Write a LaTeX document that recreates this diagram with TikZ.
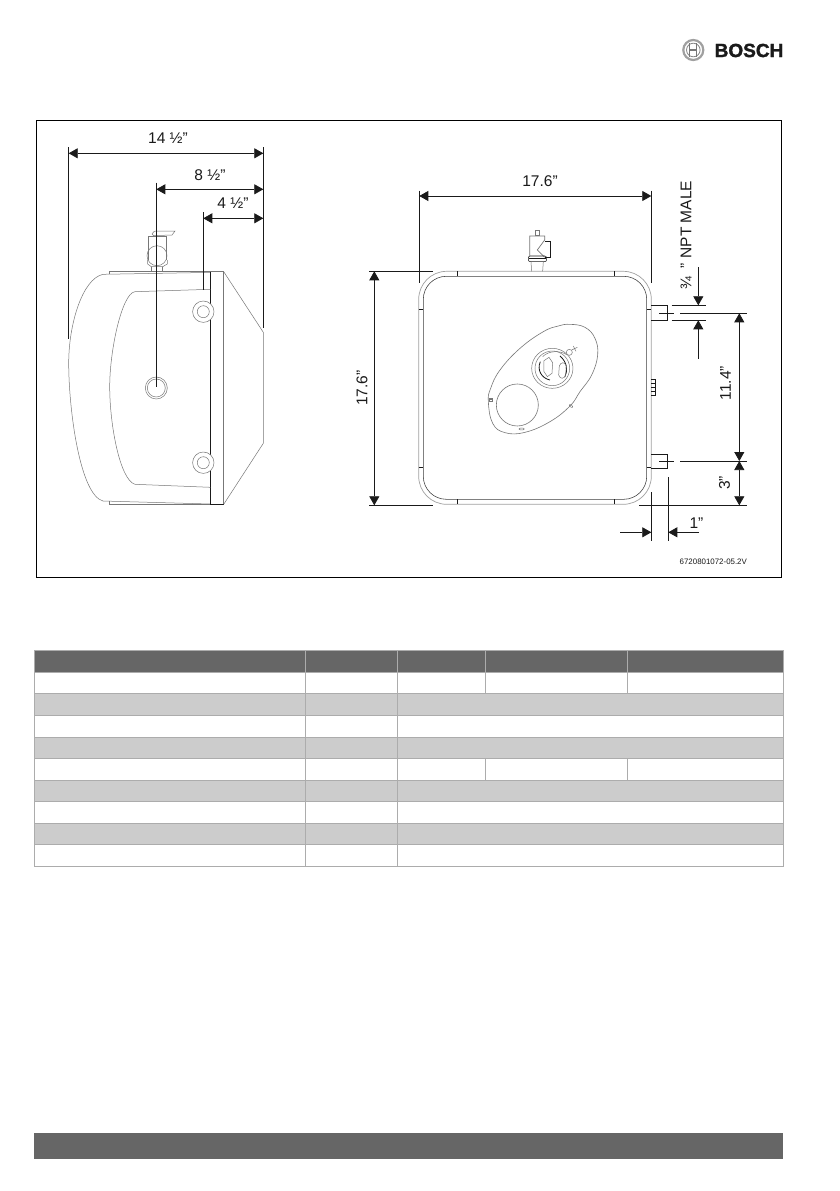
\documentclass[tikz,border=0pt]{standalone}
\usepackage{fontspec}
\setmainfont{Liberation Sans}
\newfontfamily\brandfont[FakeBold=1.6]{Liberation Sans Bold}
\usetikzlibrary{arrows.meta}
\definecolor{ink}{HTML}{1A1A1A}
\definecolor{body}{HTML}{777777}
\definecolor{hdr}{HTML}{666666}
\definecolor{band}{HTML}{CCCCCC}
\definecolor{rule}{HTML}{ACACAC}
\tikzset{
  dimline/.style={draw=ink,line width=0.75pt},
  ext/.style={draw=ink,line width=0.7pt},
  outl/.style={draw=body,line width=0.5pt},
  outg/.style={draw=body!70,line width=0.7pt},
  inkl/.style={draw=ink,line width=0.55pt},
  one/.style={dimline,-{Triangle[length=9pt,width=10pt]}},
  two/.style={dimline,{Triangle[length=9pt,width=10pt]}-{Triangle[length=9pt,width=10pt]}},
  dimtext/.style={font=\fontsize{15.5pt}{17pt}\selectfont,text=ink,inner sep=0pt},
  cell/.style={draw=rule,line width=0.7pt},
}
\begin{document}
\begin{tikzpicture}[x=1pt,y=-1pt]
\useasboundingbox (0,0) rectangle (839,1191);
\fill[white] (0,0) rectangle (839,1191);
% --- logo
\begin{scope}[shift={(693.3,50)}]
  \draw[draw=body!70,line width=2.2pt] (0,0) circle (10);
  \draw[draw=body!90,line width=0.8pt] (0,0) circle (6.8);
  \draw[draw=body,line width=1.1pt] (-3.6,-7) -- (-3.6,7) (3.6,-7) -- (3.6,7) (-3.6,0) -- (3.6,0);
\end{scope}
\node[font=\brandfont\fontsize{19pt}{20pt}\selectfont,text=ink,inner sep=0pt] (brand) at (749,50.5) {BOSCH};
% --- frame
\draw[draw=black,line width=0.8pt] (36,120) rectangle (781,577);
% --- side view
\draw[outl] (109.3,274) -- (109.3,271.7) -- (223.7,271.7);
\draw[outl] (210.3,272.4) -- (103,274.3) .. controls (82,279) and (68.7,325) .. (68.7,363)
   .. controls (68.7,410) and (80,495) .. (103,501) -- (210.3,504);
\draw[outl] (109.3,501.4) -- (109.3,504.3) -- (223.7,504.3);
\draw[inkl,line width=0.7pt] (210.3,271.7) -- (210.3,504.3);
\draw[inkl] (210.3,504.3) -- (223.7,504.3);
\draw[outl,line width=0.7pt] (223.7,271.7) -- (223.7,504.3);
\draw[outl] (223.7,271.7) -- (263.3,332.3) -- (263.3,443.3) -- (223.7,504.3);
\draw[outl] (210.3,289.3) -- (135,291.7) .. controls (122,293) and (109.7,350) .. (109.7,386.7)
   .. controls (109.7,425) and (120,480) .. (135,484.3) -- (210.3,487.3);
\foreach \cy in {311.7,462.7}{
  \filldraw[outl,fill=white] (203.3,\cy) circle (10.7);
  \draw[outl] (203.3,\cy) circle (6);
}
\draw[outl] (156.3,388) circle (11) (156.3,388) circle (9);
% side valve
\draw[outl] (152,234) .. controls (153,231) and (155,231) .. (157,231) -- (175,231) -- (172,235) -- (157,235.5) .. controls (154,236) and (153,236) .. (152,234);
\draw[outl] (148.7,260) -- (148.7,236.5) -- (166,236.5) -- (166,260);
\draw[outl] (157,255.7) circle (10);
\draw[outl] (147.7,260) -- (147.7,264) -- (151,266.5) -- (163,266.5) -- (167.3,264) -- (167.3,260);
\draw[outl] (151,266.5) -- (151,271.7) (162.7,266.5) -- (162.7,271.7);
% --- front view
\draw[outg] (418.7,271.3) [rounded corners=28pt] rectangle (651.3,504.3);
\draw[inkl,draw=ink!85] (423.3,276.3) [rounded corners=23pt] rectangle (646.7,499.3);
\draw[inkl] (457.3,271.3) -- (457.3,276.3) (614.3,271.3) -- (614.3,276.3)
            (457.3,499.3) -- (457.3,504.3) (614.3,499.3) -- (614.3,504.3)
            (418.7,309.3) -- (423.3,309.3) (646.7,309.3) -- (651.3,309.3)
            (418.7,467.3) -- (423.3,467.3) (646.7,467.3) -- (651.3,467.3);
% top valve of front view
\begin{scope}[shift={(340,170)},x=.3333pt,y=-.3333pt]
  \draw[outl,line width=.7pt] (587,181) rectangle (598,197);
  \draw[outl,line width=.7pt] (569,258) -- (569,198) -- (614,198) -- (614,210) -- (592,240) -- (614,262);
  \draw[inkl] (614,214) -- (632,214) -- (632,262) -- (614,262);
  \draw[inkl,rounded corners=2pt] (565,258) rectangle (620,275);
  \draw[inkl] (567,266) -- (618,266);
  \draw[outl] (573,275) -- (575,304) (610,275) -- (608,304);
\end{scope}
% control panel
\begin{scope}[shift={(470,320)},x=.3333pt,y=-.3333pt]
  \draw[outl,line width=.6pt] plot[smooth cycle,tension=.7] coordinates {(300,13)(345,22)(375,55)(383,105)(365,165)(330,215)(300,258)(240,305)(165,337)(105,338)(68,310)(55,245)(62,205)(90,150)(150,85)(220,35)(265,18)};
  \draw[outl,line width=.6pt] (142,255) circle (63);
  \draw[outl] (247,145) ellipse (62 and 60);
  \draw[outl] (247,145) ellipse (52 and 52);
  \draw[inkl,line width=.8pt] (211,125) .. controls (200,150) and (215,175) .. (240,180);
  \draw[inkl,line width=.8pt] (285,170) .. controls (295,150) and (290,125) .. (270,108);
  \draw[outl] (222,122) -- (237,112) -- (248,128) -- (246,160) -- (232,170) -- (222,155) -- cycle;
  \draw[outl] (268,138) .. controls (272,125) and (285,125) .. (289,138) -- (287,165) .. controls (283,178) and (270,178) .. (266,165) -- cycle;
  \draw[outl] (218,110) .. controls (235,92) and (270,90) .. (292,105);
  \filldraw[outl,fill=white] (298,97) circle (9);
  \draw[outl] (305,90) -- (322,82) (310,78) -- (318,94);
  \draw[outl] (155,327) ellipse (8 and 3);
  \draw[outl,rotate around={-35:(303,258)}] (303,258) ellipse (6 and 3);
  \draw[outl] (58,234) rectangle (68,245) (58,239) -- (68,239);
\end{scope}
% fittings
\draw[inkl] (651.3,305.3) -- (667.7,305.3) -- (667.7,320.3) -- (651.3,320.3);
\draw[inkl] (651.3,454.3) -- (667.7,454.3) -- (667.7,468.7) -- (651.3,468.7);
\draw[inkl] (651.3,379.3) -- (655.7,379.3) -- (655.7,395.3) -- (651.3,395.3)
            (651.3,383.3) -- (655.7,383.3) (651.3,387.3) -- (655.7,387.3) (651.3,391.3) -- (655.7,391.3);
% --- dimension coordinates
\coordinate (wa) at (68.7,153.3);  \coordinate (wb) at (263.3,153.3);
\coordinate (ma) at (156.3,189.3); \coordinate (mb) at (263.3,189.3);
\coordinate (sa) at (203.3,218.3); \coordinate (sb) at (263.3,218.3);
\coordinate (fa) at (419.3,196);   \coordinate (fb) at (651.3,196);
\coordinate (ha) at (374.3,271.3); \coordinate (hb) at (374.3,505.3);
\coordinate (pa) at (739.3,313.3); \coordinate (pb) at (739.3,461); \coordinate (pc) at (739.3,505.3);
\coordinate (na) at (698.3,267.3); \coordinate (nb) at (698.3,305.3);
\coordinate (nc) at (698.3,358.7); \coordinate (nd) at (698.3,320.3);
\coordinate (oa) at (620,532.3);   \coordinate (ob) at (651.3,532.3);
\coordinate (oc) at (699,532.3);   \coordinate (od) at (668.3,532.3);
% extension lines
\draw[ext] (68.7,147) -- (68.7,339) (263.3,147) -- (263.3,328)
           (156.3,182.7) -- (156.3,387) (203.3,212) -- (203.3,290)
           (419.3,190.7) -- (419.3,283.3) (651.3,190.7) -- (651.3,283.3)
           (369.3,271.3) -- (432.7,271.3) (369.3,505.3) -- (432.7,505.3)
           (659.3,313.3) -- (674,313.3) (680,313.3) -- (746.7,313.3)
           (659.3,461) -- (674,461) (680,461) -- (746.7,461)
           (639,505.3) -- (746.7,505.3)
           (671.7,305.3) -- (705.7,305.3) (671.7,320.3) -- (705.7,320.3)
           (651.3,492) -- (651.3,540.7) (668.3,477.3) -- (668.3,540.7);
% dimension arrows
\draw[two] (wa) -- (wb);
\draw[two] (ma) -- (mb);
\draw[two] (sa) -- (sb);
\draw[two] (fa) -- (fb);
\draw[two] (ha) -- (hb);
\draw[two] (pa) -- (pb);
\draw[two] (pb) -- (pc);
\draw[one] (na) -- (nb);
\draw[one] (nc) -- (nd);
\draw[one] (oa) -- (ob);
\draw[one] (oc) -- (od);
% dimension labels
\node[dimtext] (t1) at (168,138.5) {14 ½”};
\node[dimtext] (t2) at (210,175) {8 ½”};
\node[dimtext] (t3) at (233,203.5) {4 ½”};
\node[dimtext] (t4) at (540,181.5) {17.6”};
\node[dimtext,rotate=90] (t5) at (362,388) {17.6”};
\node[dimtext,rotate=90] (t6) at (686,235) {¾\hspace{3pt} ”\hspace{1pt} NPT MALE};
\node[dimtext,rotate=90] (t7) at (725.5,383) {11.4”};
\node[dimtext,rotate=90] (t8) at (724.5,483) {3”};
\node[dimtext] (t9) at (696.5,523) {1”};
\node[font=\fontsize{7.9pt}{9pt}\selectfont,text=ink,inner sep=0pt] (code) at (713.3,561.3) {6720801072-05.2V};
% --- table
\fill[hdr] (34.3,650.3) rectangle (783.3,672.3);
\foreach \ya/\yb in {693.3/715.3,737.3/758.3,780.3/801.3,823.3/844.3}
  \fill[band] (34.3,\ya) rectangle (783.3,\yb);
\draw[cell] (34.3,650.3) rectangle (783.3,866.3);
\foreach \yy in {672.3,693.3,715.3,737.3,758.3,780.3,801.3,823.3,844.3}
  \draw[cell] (34.3,\yy) -- (783.3,\yy);
\foreach \xx in {305.3,397.3}
  \draw[cell] (\xx,650.3) -- (\xx,866.3);
\foreach \xx in {485.3,627.3}
  \draw[cell] (\xx,650.3) -- (\xx,693.3) (\xx,758.3) -- (\xx,780.3);
% --- footer bar
\fill[hdr] (34.3,1133) rectangle (783.3,1159);
\end{tikzpicture}
\end{document}
